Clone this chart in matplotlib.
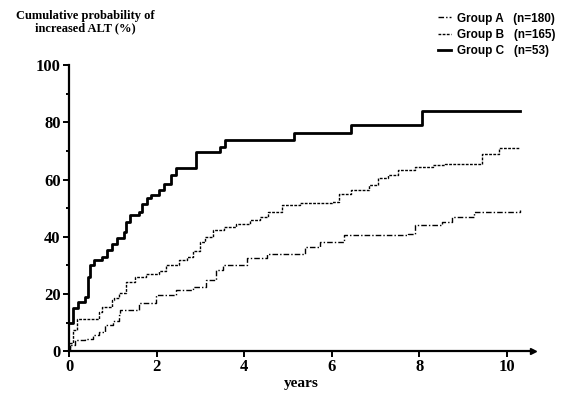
import matplotlib
matplotlib.use("Agg")
import matplotlib.pyplot as plt
from matplotlib.ticker import MultipleLocator

# step curves (years, cumulative %)
t_c = [0, 0.1, 0.21, 0.37, 0.44, 0.48, 0.56, 0.75, 0.87, 0.98, 1.1, 1.25, 1.29, 1.4, 1.6,
       1.67, 1.79, 1.87, 2.06, 2.17, 2.33, 2.44, 2.9, 3.44, 3.56, 5.13, 6.44, 8.05, 10.3]
v_c = [9.8, 15, 17.2, 19, 26, 30, 31.8, 33, 35.5, 37.6, 39.4, 41.7, 45.2, 47.6, 48.7,
       51.6, 53.4, 54.5, 56.3, 58.6, 61.5, 64, 69.5, 71.4, 74, 76.4, 79, 84, 84]

t_b = [0, 0.03, 0.1, 0.18, 0.68, 0.75, 0.98, 1.02, 1.14, 1.29, 1.5, 1.75, 2.06, 2.21, 2.52,
       2.7, 2.83, 2.98, 3.1, 3.29, 3.55, 3.82, 4.13, 4.36, 4.55, 4.86, 5.28, 6.01, 6.16,
       6.44, 6.85, 7.05, 7.28, 7.51, 7.89, 8.32, 8.58, 9.43, 9.82, 10.3]
v_b = [0, 3, 7.3, 11.2, 13.7, 15.5, 17.8, 18.5, 20.2, 24.2, 25.8, 27, 28.2, 30, 31.8,
       33, 34.9, 38.2, 40, 42.3, 43.5, 44.6, 45.8, 47, 48.7, 51, 51.9, 52.2, 55,
       56.3, 58, 60.4, 61.5, 63.3, 64.4, 65, 65.6, 69, 70.9, 71]

t_a = [0, 0.02, 0.14, 0.37, 0.55, 0.68, 0.83, 1.0, 1.14, 1.17, 1.6, 1.98, 2.44, 2.83,
       3.13, 3.36, 3.52, 4.06, 4.51, 5.4, 5.74, 6.28, 7.74, 7.9, 8.51, 8.74, 9.24, 10.3]
v_a = [0, 2, 3.8, 4.4, 5.6, 6.8, 9.1, 10.5, 12.6, 14.3, 16.7, 19.6, 21.3, 22.5,
       24.8, 28.3, 30, 32.4, 34, 36.5, 38.2, 40.6, 41.1, 44, 45.2, 47, 48.7, 49.3]

labels = ["Group A   (n=180)", "Group B   (n=165)", "Group C   (n=53)"]
xticks = [0, 2, 4, 6, 8, 10]
yticks = [0, 20, 40, 60, 80, 100]

plt.rcParams['font.family'] = ['Liberation Serif', 'DejaVu Serif']

fig = plt.figure(figsize=(5.66, 3.95), dpi=100)
ax = fig.add_axes([0.122, 0.111, 0.82, 0.724])

la, = ax.step(t_a, v_a, where='post', color='black', lw=1.0, ls=(0, (4, 1.5, 1, 1.5)))
lb, = ax.step(t_b, v_b, where='post', color='black', lw=1.0, ls=(0, (2, 1)))
lc, = ax.step(t_c, v_c, where='post', color='black', lw=2.0)

ax.set_xlim(0, 10.6)
ax.set_ylim(0, 100)
ax.spines['top'].set_visible(False)
ax.spines['right'].set_visible(False)
ax.spines['left'].set_linewidth(1.6)
ax.spines['bottom'].set_linewidth(1.6)
ax.plot(1, 0, '>', color='black', ms=4, transform=ax.transAxes, clip_on=False)

ax.set_xticks(xticks)
ax.set_yticks(yticks)
ax.yaxis.set_minor_locator(MultipleLocator(10))
ax.tick_params(which='both', direction='out', width=1.4, labelsize=12, pad=2)
ax.tick_params(which='major', length=4)
ax.tick_params(which='minor', length=2)
for lab in ax.get_xticklabels() + ax.get_yticklabels():
    lab.set_fontweight('bold')

ax.set_xlabel("years", fontsize=11, fontweight='bold', labelpad=1)
fig.text(0.15, 0.975, "Cumulative probability of\nincreased ALT (%)", ha='center', va='top',
         fontsize=9, fontweight='bold', linespacing=1.1)

fig.legend([la, lb, lc], labels, loc='upper left', bbox_to_anchor=(0.755, 0.995),
           frameon=False, handlelength=1.1, handletextpad=0.5, labelspacing=0.35,
           prop={'family': 'Liberation Sans', 'size': 8.5, 'weight': 'bold'})

fig.savefig("out.png", dpi=100)
